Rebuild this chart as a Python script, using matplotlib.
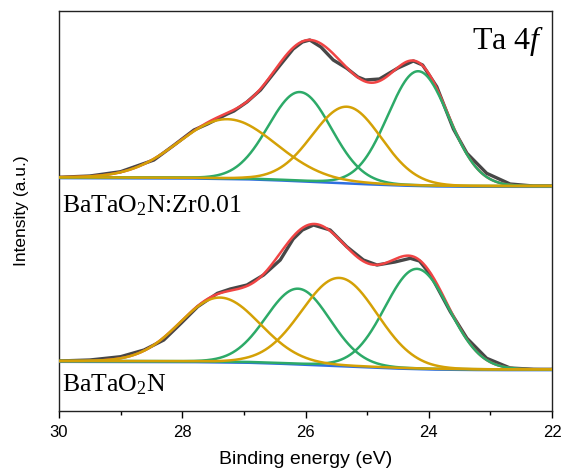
import numpy as np
import matplotlib
matplotlib.use("Agg")
import matplotlib.pyplot as plt
from matplotlib.ticker import MultipleLocator

plt.rcParams['font.family'] = ['Liberation Sans', 'DejaVu Sans']
plt.rcParams['mathtext.fontset'] = 'custom'
plt.rcParams['mathtext.rm'] = 'Liberation Serif'
plt.rcParams['mathtext.it'] = 'Liberation Serif:italic'

# ---------------- data ----------------
# measured spectra (binding energy in eV, intensity in arb. units)
top_energy = [30.0, 29.5, 29.0, 28.46, 28.13, 27.81, 27.59, 27.27, 27.16, 26.95, 26.73, 26.41,
              26.2, 26.05, 25.93, 25.75, 25.55, 25.33, 25.15, 25.03, 24.8, 24.5, 24.25, 24.1,
              23.87, 23.6, 23.38, 23.06, 22.68, 22.3, 22.0]
top_intensity = [233.7, 235.0, 239.3, 251.0, 266.0, 281.0, 287.0, 297.0, 300.0, 309.0, 321.0, 346.0,
                 362.0, 369.0, 371.0, 364.0, 351.0, 342.7, 334.0, 331.0, 332.0, 343.0, 350.0, 346.0,
                 324.3, 282.0, 257.7, 237.7, 227.0, 225.0, 225.0]

bot_energy = [30.0, 29.5, 29.0, 28.62, 28.30, 28.02, 27.75, 27.43, 27.22, 27.05, 26.95,
              26.68, 26.41, 26.20, 26.05, 25.87, 25.60, 25.33, 25.06, 24.84, 24.55, 24.30,
              24.15, 23.98, 23.65, 23.38, 23.06, 22.68, 22.3, 22.0]
bot_intensity = [50.0, 51.0, 54.3, 61.0, 71.0, 87.7, 104.3, 117.7, 122.0, 124.5, 126.0,
                 136.0, 151.0, 172.0, 181.0, 186.0, 181.0, 164.3, 151.0, 146.0, 149.0, 152.7,
                 150.0, 137.0, 99.3, 72.7, 52.7, 43.0, 41.7, 41.7]

# Shirley-like backgrounds
bg_energy = [30.0, 28.0, 27.0, 26.5, 26.0, 25.5, 25.0, 24.5, 24.0, 23.5, 23.0, 22.0]
top_bg = [233.7, 233.4, 232.6, 231.6, 230.2, 228.7, 227.5, 226.3, 225.5, 225.1, 225.0, 225.0]
bot_bg = [50.0, 49.8, 49.2, 48.3, 47.0, 45.7, 44.5, 43.2, 42.3, 41.9, 41.7, 41.7]

# fitted components: centre (eV), height, FWHM (eV)
top_centers = [27.27, 26.09, 25.33, 24.17]
top_heights = [59.0, 88.5, 76.0, 114.0]
top_fwhm = [1.85, 1.20, 1.32, 1.16]

bot_centers = [27.39, 26.12, 25.45, 24.19]
bot_heights = [64.0, 75.0, 87.5, 99.5]
bot_fwhm = [1.52, 1.22, 1.44, 1.22]

component_colors = ['#D4A106', '#2DAA68', '#D4A106', '#2DAA68']

labels = [r'BaTaO$_2$N:Zr0.01', r'BaTaO$_2$N']
x_ticks = [30, 28, 26, 24, 22]
# ------------------------------------------------------------

E = np.linspace(30, 22, 801)


def peak(x, c, h, w):
    u = (x - c) / (w / 2.0)
    return h * np.exp(-np.log(2) * u ** 2)


fig = plt.figure(figsize=(5.66, 4.75), dpi=100)
ax = fig.add_axes([59 / 566, 1 - 411 / 475, (552 - 59) / 566, 400 / 475])

for ex, ey, bgy, cs, hs, ws in [
    (top_energy, top_intensity, top_bg, top_centers, top_heights, top_fwhm),
    (bot_energy, bot_intensity, bot_bg, bot_centers, bot_heights, bot_fwhm),
]:
    bg = np.interp(E, bg_energy[::-1], bgy[::-1])
    comps = [peak(E, c, h, w) for c, h, w in zip(cs, hs, ws)]
    envelope = bg + np.sum(comps, axis=0)
    ax.plot(ex, ey, color='#474747', lw=2.4, solid_capstyle='round', zorder=1)
    ax.plot(E, envelope, color='#F04444', lw=1.8, zorder=2)
    ax.plot(E, bg - 0.8, color='#2F6FE0', lw=1.8, zorder=3)
    for i in [1, 3, 0, 2]:
        ax.plot(E, bg + comps[i], color=component_colors[i], lw=1.8,
                zorder=5 if i % 2 == 0 else 4)

ax.set_xlim(30, 22)
ax.set_ylim(0, 400)
ax.set_yticks([])
ax.xaxis.set_minor_locator(MultipleLocator(1))
ax.set_xticks(x_ticks)
ax.set_xticklabels([str(t) for t in x_ticks])
ax.tick_params(axis='x', which='major', direction='out', length=5, width=1, labelsize=12, pad=5)
ax.tick_params(axis='x', which='minor', direction='out', length=3, width=1)
for s in ax.spines.values():
    s.set_linewidth(1.0)
    s.set_color('#222222')

ax.set_xlabel('Binding energy (eV)', fontsize=14)
ax.xaxis.set_label_coords(0.5, -0.1)
ax.set_ylabel('Intensity (a.u.)', fontsize=12.5)
ax.yaxis.set_label_coords(-0.06, 0.5)

ax.text(0.006, 0.497, labels[0], transform=ax.transAxes, fontsize=18.5,
        family='Liberation Serif', ha='left', va='baseline')
ax.text(0.006, 0.05, labels[1], transform=ax.transAxes, fontsize=18.5,
        family='Liberation Serif', ha='left', va='baseline')
ax.text(0.985, 0.905, r'Ta 4$\it{f}$', transform=ax.transAxes, fontsize=23,
        family='Liberation Serif', ha='right', va='baseline')

fig.savefig('out.png', dpi=100)
